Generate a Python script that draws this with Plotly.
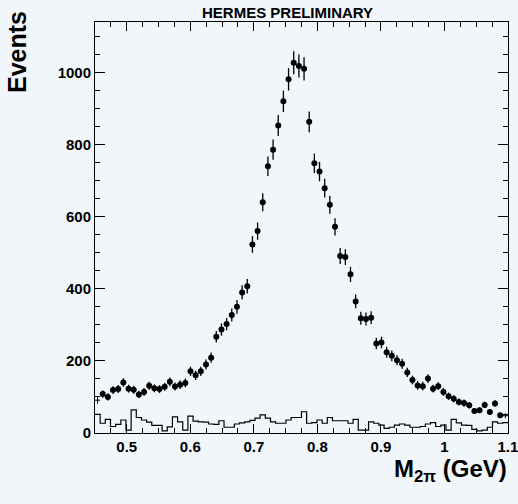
import numpy as np
import plotly.graph_objects as go

# Binning of the invariant-mass histogram
mass_lo, mass_hi, n_bins = 0.45, 1.1, 80

# Two-pion invariant-mass spectrum (events per bin) and statistical errors
events = [91, 108, 100, 119, 122, 140, 123, 120, 107, 114,
          131, 124, 122, 128, 142, 129, 134, 139, 171, 160,
          171, 190, 209, 267, 287, 302, 327, 350, 390, 407,
          523, 560, 640, 740, 786, 853, 920, 981, 1027, 1018,
          1010, 863, 748, 725, 679, 633, 572, 491, 488, 440,
          365, 318, 316, 320, 248, 251, 224, 214, 202, 192,
          168, 147, 132, 130, 151, 123, 130, 114, 102, 95,
          86, 83, 77, 61, 63, 78, 58, 82, 49, 48]
errors = [10, 10, 10, 11, 11, 12, 11, 11, 10, 11,
          11, 11, 11, 11, 12, 11, 12, 12, 13, 13,
          13, 14, 14, 16, 17, 17, 18, 19, 20, 20,
          23, 24, 25, 27, 28, 29, 30, 31, 32, 32,
          32, 29, 27, 27, 26, 25, 24, 22, 22, 21,
          19, 18, 18, 18, 16, 16, 15, 15, 14, 14,
          13, 12, 12, 12, 12, 11, 11, 11, 10, 10,
          10, 10, 9, 8, 8, 9, 8, 9, 7, 7]

# Background estimate drawn as an outlined histogram
background = [52, 27, 38, 18, 24, 36, 8, 64, 43, 36,
              30, 21, 21, 6, 17, 45, 31, 8, 47, 33,
              31, 30, 25, 24, 34, 16, 16, 25, 28, 31,
              35, 41, 50, 41, 31, 27, 27, 36, 43, 43,
              59, 27, 29, 36, 27, 43, 34, 34, 34, 27,
              38, 8, 8, 31, 27, 22, 13, 16, 22, 25,
              22, 16, 16, 18, 25, 29, 18, 22, 8, 38,
              28, 22, 21, 10, 6, 8, 16, 31, 27, 29]

x_tick_vals = [0.5, 0.6, 0.7, 0.8, 0.9, 1.0, 1.1]
x_tick_text = ["0.5", "0.6", "0.7", "0.8", "0.9", "1", "1.1"]
y_tick_vals = [0, 200, 400, 600, 800, 1000]

edges = np.linspace(mass_lo, mass_hi, n_bins + 1)
centers = 0.5 * (edges[:-1] + edges[1:])
half_width = 0.5 * (edges[1] - edges[0])

ev = np.array(events, dtype=float)
er = np.array(errors, dtype=float)

BG = "#f1f6fb"
FONT = "Liberation Sans, Arial, sans-serif"

fig = go.Figure()

# background histogram outline
fig.add_trace(go.Scatter(
    x=edges, y=background + [background[-1]],
    mode="lines", line=dict(color="black", width=1.2, shape="hv"),
    hoverinfo="skip", showlegend=False,
))

# interior bins: filled markers with vertical error bars
inner = slice(1, n_bins - 1)
fig.add_trace(go.Scatter(
    x=centers[inner], y=ev[inner],
    mode="markers",
    marker=dict(color="black", size=6, symbol="circle"),
    error_y=dict(type="data", array=er[inner], color="black", thickness=1.3, width=0),
    showlegend=False,
))

# edge bins touching the frame: error cross only
edge_idx = [0, n_bins - 1]
fig.add_trace(go.Scatter(
    x=centers[edge_idx], y=ev[edge_idx],
    mode="markers",
    marker=dict(color="black", size=1, opacity=0),
    error_y=dict(type="data", array=er[edge_idx], color="black", thickness=1, width=0),
    error_x=dict(type="data", array=[half_width] * 2, color="black", thickness=1, width=0),
    showlegend=False,
))

axis_common = dict(
    showline=True, linecolor="black", linewidth=1, mirror="allticks",
    ticks="inside", tickcolor="black", tickwidth=1,
    showgrid=False, zeroline=False, ticklabeloverflow="allow",
    automargin=False,
    tickfont=dict(family=FONT, size=15, color="black", weight="bold"),
)

fig.update_xaxes(
    range=[mass_lo, mass_hi + 1e-4], tickmode="array",
    tickvals=x_tick_vals, ticktext=x_tick_text, ticklen=9,
    minor=dict(ticks="inside", ticklen=5, tickcolor="black",
               tickmode="linear", tick0=0.5, dtick=0.025, showgrid=False),
    **axis_common,
)
fig.update_yaxes(
    range=[0, 1140], tickmode="array", tickvals=y_tick_vals, ticklen=10,
    minor=dict(ticks="inside", ticklen=5, tickcolor="black",
               tickmode="linear", tick0=0, dtick=50, showgrid=False),
    **axis_common,
)

W, H = 518, 504
L, R, T, B = 95, 10, 22, 71
pw, ph = W - L - R, H - T - B

def px_x(p):
    return (p - L) / pw

def px_y(p):
    return (H - B - p) / ph

fig.update_layout(
    width=W, height=H,
    margin=dict(l=L, r=R, t=T, b=B, autoexpand=False),
    paper_bgcolor=BG, plot_bgcolor=BG,
    font=dict(family=FONT, color="black"),
    annotations=[
        dict(text="HERMES PRELIMINARY", xref="paper", yref="paper",
             x=px_x(287), y=px_y(12), xanchor="center", yanchor="middle",
             showarrow=False, font=dict(family=FONT, size=15, weight="bold")),
        dict(text="Events", xref="paper", yref="paper",
             x=px_x(17), y=px_y(9), xanchor="center", yanchor="top",
             textangle=-90, showarrow=False,
             font=dict(family=FONT, size=25, weight="bold")),
        dict(text="M<sub>2π</sub> (GeV)", xref="paper", yref="paper",
             x=px_x(509), y=px_y(470), xanchor="right", yanchor="middle",
             showarrow=False, font=dict(family=FONT, size=24, weight="bold")),
    ],
)

fig.write_html("out.html")
